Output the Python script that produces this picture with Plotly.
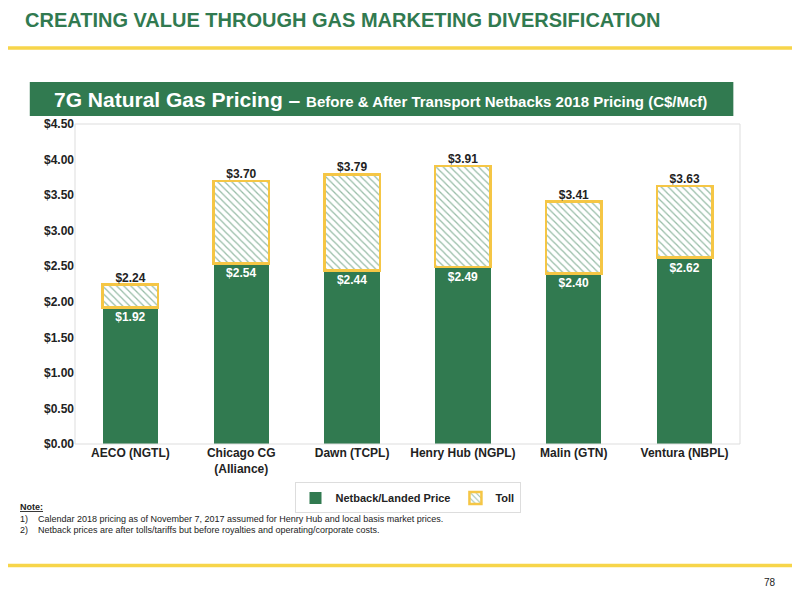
import plotly.graph_objects as go

categories = ["AECO (NGTL)", "Chicago CG<br>(Alliance)", "Dawn (TCPL)", "Henry Hub (NGPL)", "Malin (GTN)", "Ventura (NBPL)"]
netback = [1.92, 2.54, 2.44, 2.49, 2.40, 2.62]
total = [2.24, 3.70, 3.79, 3.91, 3.41, 3.63]
toll = [round(t - n, 2) for t, n in zip(total, netback)]
yticks = [0, 0.5, 1, 1.5, 2, 2.5, 3, 3.5, 4, 4.5]

GREEN = "#317a50"
YEL = "#f5c645"
F = "Liberation Sans, Arial"

fig = go.Figure()
fig.add_bar(x=categories, y=netback, name="<b>Netback/Landed Price</b>", marker_color=GREEN,
            marker_line_width=0, text=[f"<b>${v:.2f}</b>" for v in netback], textposition="inside",
            insidetextanchor="end", textfont=dict(color="white", size=12, family=F), width=0.5)
fig.add_bar(x=categories, y=toll, name="<b>Toll</b>",
            marker=dict(color="white", line=dict(color=YEL, width=2.5),
                        pattern=dict(shape="\\", fgcolor=GREEN, bgcolor="white", size=5, solidity=0.25)),
            width=0.5, textposition="none")
fig.add_scatter(x=categories, y=total, mode="text", text=[f"<b>${v:.2f}</b>" for v in total],
                textposition="top center", textfont=dict(size=12, family=F, color="#222"),
                showlegend=False, hoverinfo="skip")

fig.update_layout(
    width=800, height=600, barmode="stack", plot_bgcolor="white", paper_bgcolor="white",
    margin=dict(l=67, r=68, t=116, b=164, autoexpand=False), font=dict(family=F, color="#222"),
    xaxis=dict(showline=False, tickfont=dict(size=12, family=F, color="#222"), tickangle=0,
               tickprefix="<b>", ticksuffix="</b>"),
    yaxis=dict(range=[0, 4.5], tickvals=yticks, ticktext=[f"<b>${v:.2f}</b>" for v in yticks],
               showgrid=False, zeroline=False, tickfont=dict(size=12, family=F, color="#222")),
    legend=dict(orientation="h", x=0.5, xanchor="center", y=-0.12, yanchor="top", traceorder="normal",
                font=dict(size=11, family=F), bordercolor="#ddd", borderwidth=1, itemwidth=30,
                tracegroupgap=0),
    shapes=[
        dict(type="rect", xref="paper", yref="paper", x0=0, x1=1, y0=0, y1=1,
             line=dict(color="#ddd", width=1)),
        dict(type="rect", xref="paper", yref="paper", x0=-0.113, x1=1.12, y0=1.232, y1=1.243,
             fillcolor="#f7d54a", line_width=0),
        dict(type="rect", xref="paper", yref="paper", x0=-0.068, x1=0.99, y0=1.025, y1=1.131,
             fillcolor=GREEN, line_width=0),
        dict(type="rect", xref="paper", yref="paper", x0=-0.113, x1=1.12, y0=-0.385, y1=-0.374,
             fillcolor="#f7d54a", line_width=0),
    ],
    annotations=[
        dict(xref="paper", yref="paper", x=-0.078, y=1.325, xanchor="left", yanchor="middle",
             text="<b>CREATING VALUE THROUGH GAS MARKETING DIVERSIFICATION</b>", showarrow=False,
             font=dict(size=20, color=GREEN, family=F)),
        dict(xref="paper", yref="paper", x=0.46, y=1.078, xanchor="center", yanchor="middle",
             text="<b><span style='font-size:21px'>7G Natural Gas Pricing – </span>Before & After Transport Netbacks 2018 Pricing (C$/Mcf)</b>",
             showarrow=False, font=dict(size=15, color="white", family=F)),
        dict(xref="paper", yref="paper", x=-0.085, y=-0.175, xanchor="left", yanchor="top", align="left",
             text="<b><u>Note:</u></b><br>1)    Calendar 2018 pricing as of November 7, 2017 assumed for Henry Hub and local basis market prices.<br>2)    Netback prices are after tolls/tariffs but before royalties and operating/corporate costs.",
             showarrow=False, font=dict(size=9, color="#222", family=F)),
        dict(xref="paper", yref="paper", x=1.045, y=-0.434, xanchor="center", yanchor="middle",
             text="78", showarrow=False, font=dict(size=10, color="#222", family=F)),
    ],
)
fig.write_html("out.html")
